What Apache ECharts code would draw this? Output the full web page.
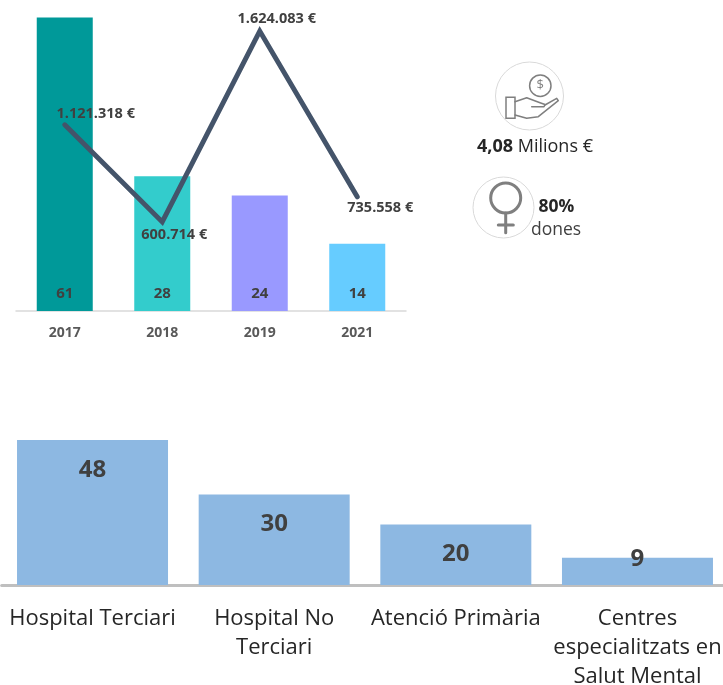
<!DOCTYPE html>
<html>
<head>
<meta charset="utf-8">
<title>Chart</title>
<script src="https://cdn.jsdelivr.net/npm/echarts@6/dist/echarts.min.js"></script>
<style>
	html, body { margin: 0; padding: 0; background: #fff; }
	#chart { width: 723px; height: 685px; }
</style>
</head>
<body>
<div id="chart"></div>
<script type="text/javascript">
	var years = ['2017', '2018', '2019', '2021'];
	var yearCounts = [61, 28, 24, 14];
	var yearAmounts = [1121318, 600714, 1624083, 735558];
	var centres = ['Hospital Terciari', 'Hospital No\nTerciari', 'Atenció Primària', 'Centres\nespecialitzats en\nSalut Mental'];
	var centreCounts = [48, 30, 20, 9];

	var yearColors = ['#009999', '#33cccc', '#9999ff', '#66ccff'];
	var amountOffsets = [[31, 2], [12, 26], [17, 1], [23, 24]];
	var centreLabelGaps = [18, 18, 18, -11];
	var font = '"Open Sans", sans-serif';
	var iconColor = '#7f7f7f';

	function euro(v) {
		return String(v).replace(/\B(?=(\d{3})+$)/g, '.') + ' €';
	}

	function iconLine(points, width) {
		return {
			type: 'polyline',
			shape: { points: points },
			style: { fill: 'none', stroke: iconColor, lineWidth: width, lineCap: 'round', lineJoin: 'round' }
		};
	}

	var option = {
		animation: false,
		grid: [
			{ left: 16, width: 390, top: 17.5, height: 293.5, outerBoundsMode: 'none' },
			{ left: 1.7, width: 726.6, top: 440, height: 145, outerBoundsMode: 'none' }
		],
		xAxis: [
			{
				type: 'category',
				gridIndex: 0,
				data: years,
				axisTick: { show: false },
				axisLine: { lineStyle: { color: '#d9d9d9', width: 1.5 } },
				axisLabel: { color: '#595959', fontFamily: font, fontWeight: 'bold', fontSize: 14, margin: 15 }
			},
			{
				type: 'category',
				gridIndex: 1,
				data: centres,
				axisTick: { show: false },
				axisLine: { lineStyle: { color: '#bfbfbf', width: 3 } },
				axisLabel: { color: '#262626', fontFamily: font, fontSize: 22, lineHeight: 29, margin: 19, interval: 0 }
			}
		],
		yAxis: [
			{ type: 'value', gridIndex: 0, min: 0, max: 61, show: false },
			{ type: 'value', gridIndex: 0, min: 123000, max: 1697000, show: false },
			{ type: 'value', gridIndex: 1, min: 0, max: 48, show: false }
		],
		series: [
			{
				type: 'bar',
				xAxisIndex: 0,
				yAxisIndex: 0,
				barWidth: 56,
				data: yearCounts.map(function (v, i) {
					return { value: v, itemStyle: { color: yearColors[i] } };
				}),
				label: {
					show: true,
					position: 'insideBottom',
					distance: 10,
					color: '#404040',
					fontFamily: font,
					fontWeight: 'bold',
					fontSize: 15
				}
			},
			{
				type: 'line',
				xAxisIndex: 0,
				yAxisIndex: 1,
				z: 5,
				symbol: 'circle',
				symbolSize: 1,
				itemStyle: { color: '#44546a' },
				lineStyle: { color: '#44546a', width: 5, cap: 'round', join: 'miter' },
				data: yearAmounts.map(function (v, i) {
					return {
						value: v,
						label: { show: true, position: 'top', offset: amountOffsets[i], formatter: euro(v) }
					};
				}),
				label: {
					color: '#404040',
					fontFamily: font,
					fontWeight: 'bold',
					fontSize: 14.5
				}
			},
			{
				type: 'bar',
				xAxisIndex: 1,
				yAxisIndex: 2,
				barWidth: 151,
				itemStyle: { color: '#8db8e2' },
				data: centreCounts.map(function (v, i) {
					return { value: v, label: { distance: centreLabelGaps[i] } };
				}),
				label: {
					show: true,
					position: 'insideTop',
					color: '#404040',
					fontFamily: font,
					fontWeight: 'bold',
					fontSize: 24
				}
			}
		],
		graphic: [
			{ type: 'circle', shape: { cx: 529.5, cy: 96, r: 34 }, style: { fill: 'none', stroke: '#d9d9d9', lineWidth: 1 } },
			{ type: 'circle', shape: { cx: 540.3, cy: 85.7, r: 10.7 }, style: { fill: 'none', stroke: iconColor, lineWidth: 1.5 } },
			{ type: 'text', x: 540.3, y: 85.7, style: { text: '$', fill: iconColor, font: '13px ' + font, align: 'center', verticalAlign: 'middle' } },
			{ type: 'rect', shape: { x: 506, y: 97.3, width: 9, height: 21 }, style: { fill: 'none', stroke: iconColor, lineWidth: 1.5 } },
			iconLine([[515, 101.7], [526.7, 97.7], [540, 102.7], [545, 104.5], [544, 106.7], [531.7, 106.7]], 1.5),
			iconLine([[545, 105], [556.7, 98.3], [558.3, 100.7], [538.3, 116.7], [526.7, 118.3], [515, 115]], 1.5),
			{
				type: 'text',
				x: 535,
				y: 147,
				style: {
					text: '{b|4,08} Milions €',
					align: 'center',
					verticalAlign: 'middle',
					fill: '#262626',
					font: '18px ' + font,
					rich: { b: { fontFamily: 'Open Sans', fontWeight: 'bold', fontSize: 18, fill: '#262626' } }
				}
			},
			{ type: 'circle', shape: { cx: 503.5, cy: 207.5, r: 30.5 }, style: { fill: 'none', stroke: '#d9d9d9', lineWidth: 1 } },
			{ type: 'circle', shape: { cx: 505.7, cy: 198, r: 15 }, style: { fill: 'none', stroke: iconColor, lineWidth: 3 } },
			iconLine([[505.7, 213], [505.7, 232.7]], 3),
			iconLine([[498.3, 225], [513.3, 225]], 3),
			{ type: 'text', x: 556.5, y: 207, style: { text: '80%', align: 'center', verticalAlign: 'middle', fill: '#262626', font: 'bold 17.5px ' + font } },
			{ type: 'text', x: 556, y: 230, style: { text: 'dones', align: 'center', verticalAlign: 'middle', fill: '#404040', font: '17.5px ' + font } }
		]
	};

	var chart = echarts.init(document.getElementById('chart'));
	chart.setOption(option);
</script>
</body>
</html>
